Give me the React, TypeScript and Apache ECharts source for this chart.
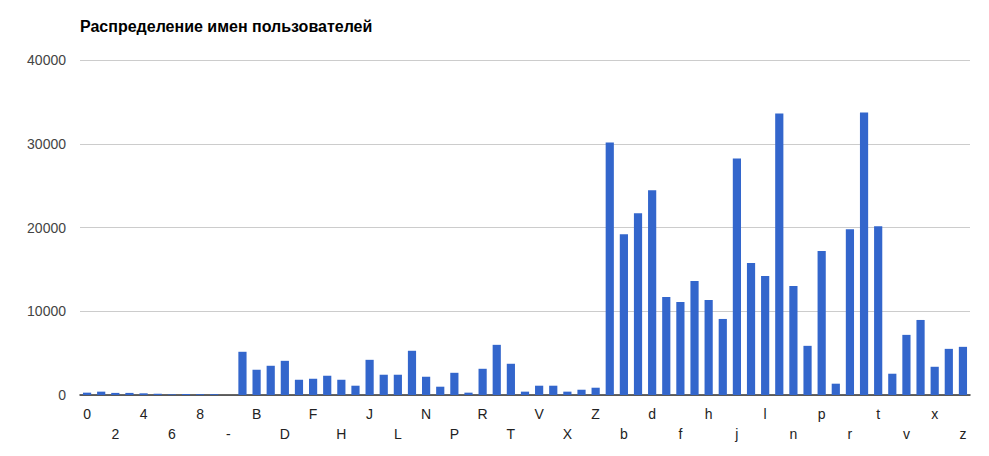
import { useRef, useEffect } from "react";
import * as echarts from "echarts";

const categories = [
  "0", "1", "2", "3", "4", "5", "6", "7", "8", "9", "-",
  "A", "B", "C", "D", "E", "F", "G", "H", "I", "J", "K", "L", "M",
  "N", "O", "P", "Q", "R", "S", "T", "U", "V", "W", "X", "Y", "Z",
  "a", "b", "c", "d", "e", "f", "g", "h", "i", "j", "k", "l", "m",
  "n", "o", "p", "q", "r", "s", "t", "u", "v", "w", "x", "y", "z",
];

const counts = [
  280, 400, 250, 250, 200, 150, 80, 120, 100, 100, 0,
  5160, 3010, 3490, 4080, 1820, 1940, 2300, 1820, 1110, 4200, 2420, 2420, 5280,
  2180, 990, 2650, 280, 3130, 5990, 3730, 400, 1110, 1110, 400, 630, 870,
  30150, 19200, 21700, 24440, 11700, 11110, 13610, 11350, 9080, 28250, 15750, 14200, 33600,
  13010, 5870, 17180, 1350, 19800, 33730, 20150, 2540, 7180, 8960, 3370, 5510, 5750,
];

const TITLE = "Распределение имен пользователей";

export default function App() {
  const chartRef = useRef<HTMLDivElement>(null);

  useEffect(() => {
    if (!chartRef.current) return;
    document.body.style.margin = "0";
    const chart = echarts.init(chartRef.current, undefined, { renderer: "svg" });

    const option: echarts.EChartsOption = {
      animation: false,
      backgroundColor: "#ffffff",
      textStyle: { fontFamily: "Liberation Sans, Arial, sans-serif" },
      title: {
        text: TITLE,
        left: 75,
        top: 13,
        textStyle: { fontSize: 16, fontWeight: "bold", color: "#000000" },
      },
      grid: { left: 80, right: 19, top: 60, bottom: 61, containLabel: false },
      xAxis: {
        type: "category",
        data: categories,
        axisLine: { lineStyle: { color: "#333333", width: 1.5 } },
        axisTick: { show: false },
        axisLabel: {
          interval: 1,
          color: "#222222",
          fontSize: 14,
          margin: 9,
          lineHeight: 20,
          // every other category is labelled, alternating between two rows
          formatter: (v: string, i: number) => (i % 4 === 2 ? "\n" + v : v),
        },
      },
      yAxis: {
        type: "value",
        min: 0,
        max: 40000,
        interval: 10000,
        axisLine: { show: false },
        axisTick: { show: false },
        axisLabel: { color: "#444444", fontSize: 14, margin: 14, formatter: (v: number) => String(v) },
        splitLine: { lineStyle: { color: "#cccccc", width: 1 } },
      },
      series: [
        {
          name: "Пользователи",
          type: "bar",
          data: counts,
          barWidth: "58%",
          itemStyle: { color: "#3366cc" },
        },
      ],
    };

    chart.setOption(option);
    return () => chart.dispose();
  }, []);

  return <div ref={chartRef} style={{ width: "989px", height: "456px" }} />;
}
